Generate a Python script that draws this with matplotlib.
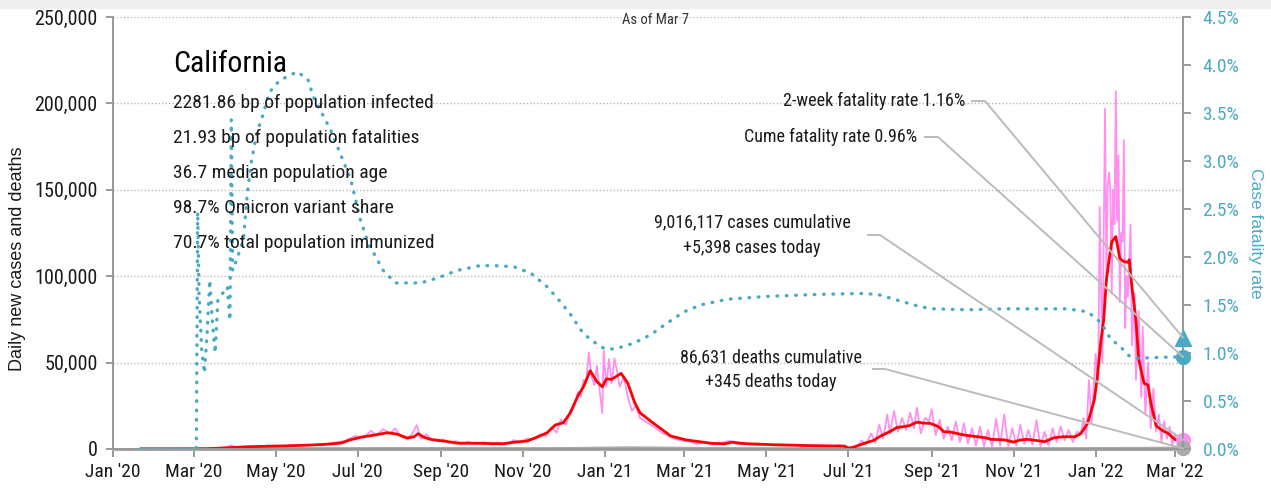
import matplotlib
matplotlib.use("Agg")
import matplotlib.pyplot as plt
from matplotlib import font_manager
from matplotlib.lines import Line2D
from matplotlib.patches import Rectangle
import numpy as np
import pandas as pd

# ---------------- data (day offsets from 2020-01-01) ----------------
start = pd.Timestamp("2020-01-01")
end_day = (pd.Timestamp("2022-03-07") - start).days

red_days = [21, 50, 60, 70, 80, 90, 100, 115, 130, 145, 160, 170, 176, 185, 194, 204, 211, 219, 224, 227,
            231, 236, 248, 256, 273, 290, 298, 308, 315, 323, 329, 335, 340, 346, 350, 355, 360, 364, 367,
            371, 378, 383, 388, 392, 401, 415, 426, 445, 455, 461, 468, 490, 522, 544, 547, 550, 559, 566,
            571, 579, 583, 592, 598, 603, 608, 614, 618, 623, 633, 649, 653, 663, 670, 675, 680, 688, 693,
            700, 707, 716, 720, 725, 730, 732, 735, 737, 739, 741, 743, 746, 749, 752, 755, 756, 758, 761,
            763, 767, 770, 772, 776, 780, 785, 790, 796]
red_vals = [0, 10, 30, 150, 500, 900, 1300, 1600, 1850, 2200, 2800, 3500, 5200, 6900, 8000, 9400, 8700, 6300,
            7100, 8900, 6900, 5600, 4400, 3400, 3300, 3000, 3900, 4600, 6700, 9400, 13900, 15200, 20600,
            31000, 36000, 45300, 39000, 36000, 40500, 40300, 43800, 38000, 27000, 21000, 15500, 7500, 5300,
            3300, 3000, 4000, 3200, 2500, 1900, 1700, 600, 800, 3300, 5000, 7500, 10500, 12400, 13400, 15500,
            15000, 14800, 13000, 10000, 9800, 8100, 6500, 5600, 5300, 4000, 5200, 5600, 4800, 4200, 6500,
            7100, 7100, 9000, 14800, 28300, 39900, 63000, 74600, 97800, 109400, 120000, 122900, 110300,
            108400, 108000, 109500, 94000, 74600, 52000, 38000, 37000, 27000, 13500, 11000, 9000, 5500, 4800]

pink_days = [21, 60, 75, 85, 88, 92, 100, 106, 115, 125, 135, 145, 155, 165, 172, 180, 186, 192, 196, 201,
             206, 210, 214, 218, 222, 226, 229, 233, 238, 242, 246, 250, 255, 259, 264, 270, 276, 282, 288,
             294, 298, 303, 308, 313, 318, 322, 326, 330, 333, 337, 340, 343, 346, 348, 350, 352, 354, 356,
             358, 360, 362, 364, 365, 367, 369, 371, 373, 375, 377, 380, 383, 386, 389, 392, 396, 400, 404,
             408, 412, 417, 422, 428, 434, 440, 446, 452, 459, 463, 470, 478, 486, 495, 505, 515, 525, 535,
             540, 546, 550, 553, 557, 560, 564, 567, 570, 573, 576, 578, 581, 584, 587, 590, 593, 596, 598,
             601, 604, 607, 609, 612, 615, 618, 621, 624, 627, 630, 633, 636, 639, 642, 645, 648, 651, 654,
             657, 660, 663, 666, 669, 672, 675, 678, 681, 684, 687, 690, 693, 696, 699, 702, 705, 708, 711,
             714, 717, 720, 722, 724, 726, 728, 731, 733, 734, 736, 738, 739, 740, 741, 742, 743, 744, 745,
             746, 747, 748, 749, 750, 751, 752, 753, 754, 755, 757, 758, 760, 761, 763, 765, 766, 768, 770,
             772, 774, 776, 778, 780, 782, 784, 786, 788, 790, 792, 794, 796]
pink_vals = [0, 30, 300, 1200, 2200, 700, 1500, 1100, 2000, 1500, 2200, 2500, 2000, 3800, 4500, 7500, 6500,
             10500, 8000, 11500, 9000, 12000, 7500, 6000, 8000, 13800, 6000, 8500, 5000, 4300, 5600, 3500,
             4600, 2500, 4200, 3000, 4000, 2600, 3700, 2800, 5200, 4000, 6000, 5600, 8600, 7500, 12500, 9500,
             17000, 14000, 22000, 25000, 33000, 30000, 40000, 38000, 55900, 42000, 37000, 48000, 34000, 20800,
             57000, 36000, 52000, 38000, 52500, 45000, 36000, 42000, 30000, 22000, 25000, 18000, 16000, 14000,
             12000, 9500, 8000, 6000, 5000, 4500, 3000, 3800, 2600, 3500, 4700, 2800, 3100, 2200, 2800, 1900,
             2300, 1500, 2100, 1200, 2100, 200, 1500, 300, 5000, 2500, 9000, 3500, 14000, 6000, 20000, 9000,
             22000, 10000, 18000, 11000, 21000, 12000, 24000, 9000, 18000, 16000, 23000, 8000, 17000, 6000,
             13000, 5000, 16000, 4000, 15000, 3000, 12000, 2000, 13000, 1500, 11000, 1000, 17500, 2000, 20000,
             1500, 12000, 2000, 14000, 3000, 11000, 2500, 16800, 1500, 10000, 2000, 12000, 4000, 13000, 5000,
             11000, 4000, 10000, 9000, 18000, 6000, 40000, 15000, 55000, 40000, 140000, 50000, 197000, 100000,
             152000, 160000, 148000, 90000, 150000, 130000, 207000, 132000, 170000, 85000, 125000, 120000,
             178800, 70000, 100000, 88000, 130000, 60000, 90000, 40000, 80000, 30000, 70800, 20000, 50000,
             12000, 35000, 10000, 20000, 4000, 16000, 6000, 13000, 2000, 9000, 3000, 8000, 5398]

death_days = [21, 70, 90, 120, 180, 210, 240, 280, 320, 350, 380, 400, 430, 470, 540, 600, 660, 720, 760, 796]
death_vals = [0, 5, 50, 80, 70, 130, 130, 80, 60, 200, 500, 450, 200, 50, 30, 80, 80, 60, 200, 345]

cfr_days = [21, 62, 63, 64, 66, 68, 70, 72, 74, 76, 78, 85, 87, 88, 89, 92, 97, 100, 103, 107, 112, 116, 124,
            137, 145, 149, 162, 169, 177, 184, 191, 194, 201, 210, 229, 241, 256, 273, 283, 298, 311, 323, 333,
            340, 348, 355, 365, 373, 387, 400, 412, 425, 437, 457, 487, 524, 556, 569, 586, 601, 611, 636, 661,
            710, 725, 733, 737, 742, 749, 756, 762, 780, 796]
cfr_vals = [0.0, 0.0, 2.47, 1.62, 1.03, 0.79, 1.2, 1.76, 1.31, 1.0, 1.55, 1.69, 1.34, 3.43, 1.86, 1.97, 2.18,
            2.67, 3.0, 3.29, 3.5, 3.71, 3.84, 3.93, 3.85, 3.67, 3.32, 3.08, 2.8, 2.39, 2.1, 2.04, 1.86, 1.73,
            1.73, 1.78, 1.86, 1.91, 1.91, 1.90, 1.83, 1.69, 1.53, 1.41, 1.24, 1.14, 1.05, 1.04, 1.10, 1.19,
            1.31, 1.43, 1.50, 1.56, 1.59, 1.61, 1.62, 1.61, 1.54, 1.48, 1.46, 1.45, 1.46, 1.46, 1.43, 1.34,
            1.27, 1.15, 1.07, 0.97, 0.945, 0.955, 0.96]

two_week_cfr = 1.16
cume_cfr = 0.96
cases_today = 5398
deaths_today = 345

xtick_dates = ["2020-01-01", "2020-03-01", "2020-05-01", "2020-07-01", "2020-09-01", "2020-11-01",
               "2021-01-01", "2021-03-01", "2021-05-01", "2021-07-01", "2021-09-01", "2021-11-01",
               "2022-01-01", "2022-03-01"]
xtick_labels = ["Jan '20", "Mar '20", "May '20", "Jul '20", "Sep '20", "Nov '20", "Jan '21", "Mar '21",
                "May '21", "Jul '21", "Sep '21", "Nov '21", "Jan '22", "Mar '22"]
left_ticks = [0, 50000, 100000, 150000, 200000, 250000]
right_ticks = [0, 0.5, 1.0, 1.5, 2.0, 2.5, 3.0, 3.5, 4.0, 4.5]

stats_lines = ["2281.86 bp of population infected", "21.93 bp of population fatalities",
               "36.7 median population age", "98.7% Omicron variant share",
               "70.7% total population immunized"]

# ---------------- fonts ----------------
names = {f.name for f in font_manager.fontManager.ttflist}
FONT = "DejaVu Sans"
for cand in ["Roboto Condensed", "Liberation Sans Narrow", "Open Sans Condensed", "Noto Sans Condensed", "Roboto"]:
    if cand in names:
        FONT = cand
        break
REG = "Liberation Sans" if "Liberation Sans" in names else "DejaVu Sans"
plt.rcParams["font.family"] = [FONT, "DejaVu Sans"]

W, H = 1271, 488
TEAL = "#4aaac6"
GRAY = "#aaaaaa"
TXT = "#1a1a1a"

fig = plt.figure(figsize=(W / 100, H / 100), dpi=100)
fig.patches.append(Rectangle((0, 1 - 8 / H), 1, 8 / H, transform=fig.transFigure, color="#efefef", zorder=0))

ax = fig.add_axes([113 / W, 1 - 449 / H, (1183 - 113) / W, (449 - 17) / H])
ax2 = ax.twinx()

ax.set_xlim(0, end_day)
ax.set_ylim(0, 250000)
ax2.set_ylim(0, 4.5)

# grid
for v in left_ticks[1:]:
    ax.axhline(v, color="#bbbbbb", lw=1.0, ls=(0, (1, 1.5)), zorder=0)

ax.plot(death_days, death_vals, color=GRAY, lw=2.6, zorder=2, clip_on=False)
ax.plot(pink_days, pink_vals, color="#ff90f2", lw=1.3, zorder=3)
ax.plot(red_days, red_vals, color="#ff0000", lw=2.0, zorder=4)
ax2.plot(cfr_days, cfr_vals, color=TEAL, lw=2.4, ls=(0, (0.2, 2.6)), dash_capstyle="round", zorder=5)

# end markers
ax.plot([end_day], [cases_today], "o", ms=10, color="#ff90f2", clip_on=False, zorder=6)
ax.plot([end_day], [deaths_today], "o", ms=10, color=GRAY, clip_on=False, zorder=6)
ax2.plot([end_day], [two_week_cfr], "^", ms=11, color=TEAL, clip_on=False, zorder=6)
ax2.plot([end_day], [cume_cfr], "o", ms=10, color=TEAL, clip_on=False, zorder=6)

# axes styling
for a in (ax, ax2):
    a.spines["top"].set_visible(False)
    for s in ("left", "right", "bottom"):
        a.spines[s].set_color("#999999")
        a.spines[s].set_linewidth(1.4)
    a.patch.set_visible(False)
ax.spines["bottom"].set_linewidth(2.2)
ax.spines["bottom"].set_color(GRAY)

xt = [(pd.Timestamp(d) - start).days for d in xtick_dates]
ax.set_xticks(xt)
ax.set_xticklabels(xtick_labels)
ax.set_yticks(left_ticks)
ax.set_yticklabels([f"{v:,}" for v in left_ticks])
ax.tick_params(axis="x", length=6, width=1.4, color="#999999", labelsize=14, labelcolor=TXT, pad=4)
ax.tick_params(axis="y", length=5, width=1.4, color="#999999", labelsize=14.5, labelcolor=TXT, pad=6)
ax2.set_yticks(right_ticks)
ax2.set_yticklabels([f"{v:.1f}%" for v in right_ticks])
ax2.tick_params(axis="y", length=6, width=1.4, color="#999999", labelsize=14, labelcolor=TEAL, pad=8)

# axis labels (regular-width face, as in the reference)
fig.text(18 / W, 1 - 259 / H, "Daily new cases and deaths", rotation=90, ha="center", va="center",
         fontsize=13, color=TXT, family=[REG, "DejaVu Sans"])
fig.text(1255 / W, 1 - 233 / H, "Case fatality rate", rotation=270, ha="center", va="center",
         fontsize=12.5, color=TEAL, family=[REG, "DejaVu Sans"])

fig.text(655 / W, 1 - 20 / H, "As of Mar 7", ha="center", va="center", fontsize=10.5, color="#333333")

# stats block
fig.text(173 / W, 1 - 72 / H, "California", ha="left", va="baseline", fontsize=21.5, color="#000000")
for i, line in enumerate(stats_lines):
    fig.text(173 / W, 1 - (108 + 35 * i) / H, line, ha="left", va="baseline", fontsize=14, color=TXT)

# annotations
fig.canvas.draw()


def data_px(a, x, y):
    X, Y = a.transData.transform((x, y))
    return X, H - Y


def connector(x0, y0, x1, target):
    tx, ty = target
    xs = [x0 / W, x1 / W, tx / W]
    ys = [1 - y0 / H, 1 - y0 / H, 1 - ty / H]
    fig.lines.append(Line2D(xs, ys, transform=fig.transFigure, color="#bbbbbb", lw=1.4, zorder=1))


fig.text(965 / W, 1 - 101 / H, f"2-week fatality rate {two_week_cfr:.2f}%", ha="right", va="center",
         fontsize=13, color=TXT)
connector(972, 101, 985, data_px(ax2, end_day, two_week_cfr))

fig.text(917 / W, 1 - 137 / H, f"Cume fatality rate {cume_cfr:.2f}%", ha="right", va="center",
         fontsize=13, color=TXT)
connector(925, 137, 938, data_px(ax2, end_day, cume_cfr))

fig.text(752 / W, 1 - 222 / H, "9,016,117 cases cumulative", ha="center", va="center", fontsize=13, color=TXT)
fig.text(752 / W, 1 - 248 / H, f"+{cases_today:,} cases today", ha="center", va="center", fontsize=13, color=TXT)
connector(868, 235, 880, data_px(ax, end_day, cases_today))

fig.text(771 / W, 1 - 357 / H, "86,631 deaths cumulative", ha="center", va="center", fontsize=13, color=TXT)
fig.text(771 / W, 1 - 382 / H, f"+{deaths_today} deaths today", ha="center", va="center", fontsize=13, color=TXT)
connector(873, 369, 885, data_px(ax, end_day, deaths_today))

fig.savefig("out.png", dpi=100)
